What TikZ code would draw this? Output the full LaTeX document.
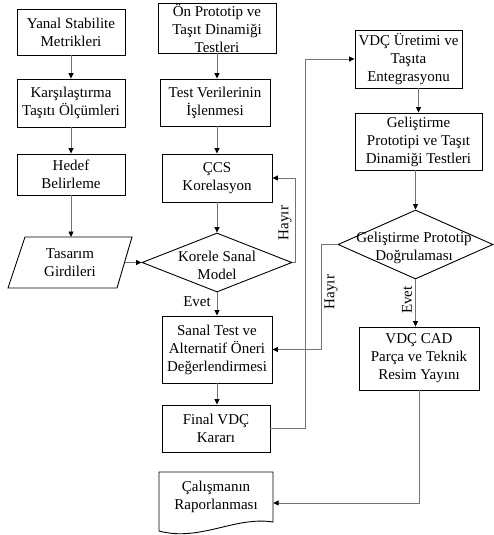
\documentclass[tikz,border=0pt]{standalone}
\usepackage{fontspec}
\setmainfont{Liberation Serif}
\usetikzlibrary{arrows.meta,shapes.geometric}
\definecolor{conn}{RGB}{115,115,115}
\begin{document}
\begin{tikzpicture}[x=1pt,y=-1pt,
  txt/.style={align=center,inner sep=0pt,font=\fontsize{15}{18}\selectfont},
  box/.style={txt,draw,line width=0.9pt},
  dia/.style={draw,diamond,line width=0.9pt,inner sep=0pt},
  arr/.style={draw=conn,line width=0.8pt,-{Triangle[length=5.5pt,width=5pt,color=black]}},
  lbl/.style={font=\fontsize{15}{18}\selectfont,inner sep=0pt}]
\useasboundingbox (0,0) rectangle (493,535);
% column 1
\node[box,minimum width=108pt,minimum height=46pt] (b1) at (71,32) {Yanal Stabilite\\Metrikleri};
\node[box,minimum width=108pt,minimum height=48pt] (b2) at (71,103) {Karşılaştırma\\Taşıtı Ölçümleri};
\node[box,minimum width=108pt,minimum height=41pt] (b3) at (71,174.5) {Hedef\\Belirleme};
\draw[line width=0.9pt] (25,237) -- (132,237) -- (117,288) -- (8,288) -- cycle;
\node[txt,minimum width=110pt,minimum height=51pt] (tas) at (70,262.5) {Tasarım\\Girdileri};
\coordinate (ptop) at (71,237);
% column 2
\node[box,minimum width=118pt,minimum height=50pt] (b4) at (217,28) {Ön Prototip ve\\Taşıt Dinamiği\\Testleri};
\node[box,minimum width=110pt,minimum height=47pt] (b5) at (215,102.5) {Test Verilerinin\\İşlenmesi};
\node[box,minimum width=110pt,minimum height=48pt] (b6) at (217,178) {ÇCS\\Korelasyon};
\node[dia,minimum width=150pt,minimum height=59pt] (d1) at (217,262.5) {};
\node[txt] (d1t) at (217,265) {Korele Sanal\\Model};
\node[box,minimum width=110pt,minimum height=67pt] (b7) at (217,349.5) {Sanal Test ve\\Alternatif Öneri\\Değerlendirmesi};
\node[box,minimum width=108pt,minimum height=47pt] (b8) at (216,428.5) {Final VDÇ\\Kararı};
\draw[line width=0.9pt] (159,472) -- (273,472) -- (273,522) .. controls (235,516) and (200,542) .. (159,531) -- cycle;
\node[txt,minimum width=114pt] (rep) at (216,497) {Çalışmanın\\Raporlanması};
% column 3
\node[box,minimum width=107pt,minimum height=58pt] (b9) at (408.5,59) {VDÇ Üretimi ve\\Taşıta\\Entegrasyonu};
\node[box,minimum width=127pt,minimum height=57pt] (b10) at (418.5,141.5) {Geliştirme\\Prototipi ve Taşıt\\Dinamiği Testleri};
\node[dia,minimum width=155pt,minimum height=69pt] (d2) at (415.5,244.5) {};
\node[txt] (d2t) at (414,248) {Geliştirme Prototip\\Doğrulaması};
\node[box,minimum width=120pt,minimum height=63pt] (b11) at (419,358.5) {VDÇ CAD\\Parça ve Teknik\\Resim Yayını};
% connectors
\draw[arr] (b1.south) -- (b2.north);
\draw[arr] (b2.south) -- (b3.north);
\draw[arr] (b3.south) -- (ptop);
\draw[arr] (tas.east) -- (d1.west);
\draw[arr] (b4.south) -- (b4.south |- b5.north);
\draw[arr] (b5.south -| b6.north) -- (b6.north);
\draw[arr] (b6.south) -- (d1.north);
\draw[arr] (d1.east) -- ++(3,0) |- (b6.east);
\node[lbl,rotate=90] at (285,223) {Hayır};
\draw[arr] (d1.south) -- (b7.north);
\node[lbl] at (197,302) {Evet};
\draw[arr] (b7.south) -- (b7.south |- b8.north);
\draw[arr] (b8.east) -- ++(35,0) |- (b9.west);
\draw[arr] (b10.north |- b9.south) -- (b10.north);
\draw[arr] (b10.south -| d2.north) -- (d2.north);
\draw[arr] (d2.west) -- ++(-16,0) |- (b7.east);
\node[lbl,rotate=90] at (331,292) {Hayır};
\draw[arr] (d2.south) -- (d2.south |- b11.north);
\node[lbl,rotate=90] at (407,300) {Evet};
\draw[arr] (b11.south) |- ([yshift=-6pt]rep.east);
\end{tikzpicture}
\end{document}
